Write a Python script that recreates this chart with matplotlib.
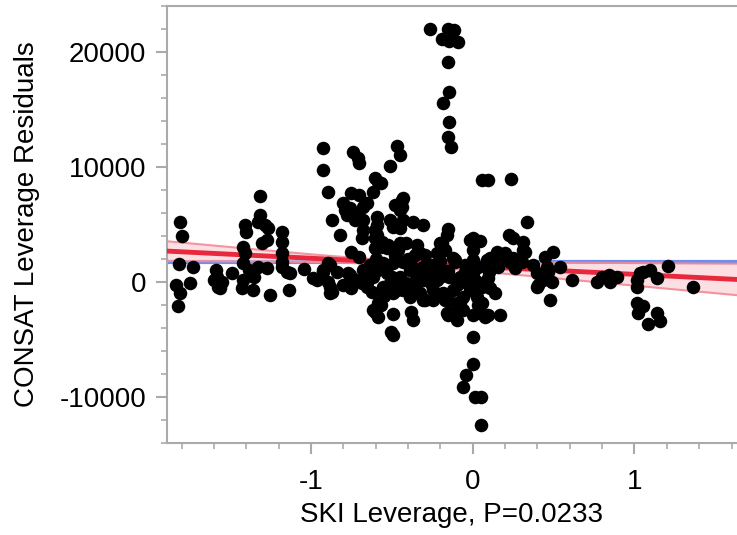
import numpy as np
import matplotlib.pyplot as plt
from matplotlib.ticker import MultipleLocator

plt.rcParams['font.family'] = ['Liberation Sans', 'DejaVu Sans']
plt.rcParams['axes.unicode_minus'] = False

# leverage points (SKI leverage, CONSAT leverage residual)
far_left = [(-1.81, 5220), (-1.80, 4000), (-1.815, 1560), (-1.73, 1300), (-1.835, -260),
            (-1.81, -960), (-1.75, -90), (-1.82, -2090)]
left_mid = [(-1.59, 1040), (-1.58, 430), (-1.575, -430), (-1.55, 0), (-1.49, 780),
            (-1.60, 170), (-1.56, -520)]
left_upper = [(-1.41, 4960), (-1.40, 4350), (-1.42, 3040), (-1.41, 2520), (-1.42, 1650),
              (-1.425, -520), (-1.42, 170), (-1.36, -700), (-1.355, 430), (-1.33, 1300),
              (-1.38, 1040), (-1.315, 7480), (-1.315, 5830), (-1.325, 5220), (-1.285, 4960),
              (-1.265, 4700), (-1.30, 3390), (-1.27, 3650), (-1.27, 1220), (-1.255, -1130),
              (-1.18, 4350), (-1.18, 3480), (-1.18, 2520), (-1.18, 1740), (-1.18, 1300),
              (-1.15, 870), (-1.13, 780), (-1.135, -700), (-1.04, 1130), (-0.99, 350)]
centre_upper = [(-0.925, 11650), (-0.925, 9740), (-0.895, 7830), (-0.74, 11300), (-0.71, 10780),
                (-0.70, 10350), (-0.47, 11830), (-0.45, 11040), (-0.51, 10090), (-0.605, 9040),
                (-0.585, 8700), (-0.615, 7830), (-0.75, 7740), (-0.70, 7570), (-0.655, 6870),
                (-0.80, 6870), (-0.79, 6260), (-0.76, 6430), (-0.78, 5830), (-0.73, 5390),
                (-0.71, 5830), (-0.87, 5390), (-0.82, 4090), (-0.68, 5390), (-0.68, 4520),
                (-0.685, 3830), (-0.59, 5650), (-0.605, 4520), (-0.605, 3830), (-0.48, 6700),
                (-0.44, 7130), (-0.45, 6260), (-0.51, 5390), (-0.495, 4780), (-0.45, 4700),
                (-0.43, 5390), (-0.37, 5220), (-0.31, 4960), (-0.43, 7300), (-0.57, 8610),
                (-0.68, 6520), (-0.59, 4960), (-0.59, 4090), (-0.44, 6520)]
centre_mid = [(-0.75, 2610), (-0.56, 3480), (-0.525, 3220), (-0.53, 2960), (-0.45, 3390),
              (-0.41, 3390), (-0.345, 3220), (-0.605, 2960), (-0.20, 3390), (-0.46, 2780),
              (-0.155, 4610), (-0.16, 4090), (-0.19, 3390), (-0.17, 2780), (-0.12, 2090),
              (-0.11, 1740), (-0.57, 3040), (-0.22, 2520), (-0.325, 2520), (-0.355, 2350),
              (-0.295, 2350), (-0.48, 2350), (-0.40, 2000), (-0.60, 2000), (-0.70, 2200)]
spike = [(-0.265, 22000), (-0.155, 22000), (-0.115, 21900), (-0.19, 21130), (-0.145, 20960),
         (-0.09, 20870), (-0.15, 19130), (-0.145, 16520), (-0.185, 15570), (-0.145, 13910),
         (-0.15, 12610), (-0.135, 11740), (0.06, 8870), (0.095, 8870), (0.235, 8960)]
blob = [(-0.88, 1480), (-0.93, 430), (-0.895, 0), (-0.925, 870), (-0.87, -870), (-0.80, -260),
        (-0.77, 780), (-0.74, 170), (-0.685, -90), (-0.655, 780), (-0.635, 1480), (-0.615, 430),
        (-0.62, -870), (-0.555, 1650), (-0.53, 780), (-0.51, -90), (-0.47, -700), (-0.45, 430),
        (-0.39, 1040), (-0.41, -90), (-0.37, -960), (-0.295, -1570), (-0.345, 170), (-0.31, 1300),
        (-0.245, 780), (-0.245, -700), (-0.96, 170), (-0.925, 1040), (-0.895, 1650), (-0.88, -430),
        (-0.88, -960), (-0.84, 870), (-0.76, 610), (-0.72, 170), (-0.68, 1040), (-0.655, -430),
        (-0.555, 1300), (-0.495, 1650), (-0.43, 1740), (-0.37, 1040), (-0.265, 780), (-0.22, 170),
        (-0.185, -960), (-0.17, -1570), (-0.325, -960), (-0.31, -1570), (-0.43, -700), (-0.495, -960),
        (-0.555, -430), (-0.39, -1300), (-0.28, 1300), (-0.22, 1220), (-0.145, 430), (-0.08, 430),
        (-0.12, -700), (-0.155, -1570), (-0.08, -1830), (-0.245, -1570), (-0.20, 430), (-0.28, 170),
        (-0.06, -1300), (-0.095, -1830), (-0.11, 1910), (-0.015, -700),
        (-0.35, 600), (-0.30, 200), (-0.25, 1500), (-0.20, 1800), (-0.15, 1000), (-0.05, 900),
        (-0.05, 0), (0.0, 800), (-0.10, -300), (-0.60, 1000), (-0.50, 400), (-0.65, 200),
        (-0.45, -400), (-0.35, -500), (-0.25, -300), (-0.05, 1500), (0.03, 1300), (-0.75, -500),
        (-0.55, -1200), (-0.20, -1200), (0.10, 900), (-0.38, 1500)]
lower = [(-0.57, -2000), (-0.605, -2610), (-0.585, -3040), (-0.49, -2780), (-0.38, -2610),
         (-0.37, -3300), (-0.505, -4350), (-0.495, -4610), (-0.615, -2430), (-0.585, -1830),
         (-0.155, -2870), (-0.12, -2610), (-0.06, -2430), (0.045, -2700), (0.095, -2870),
         (0.17, -2870), (0.03, -2000), (-0.16, -2700), (-0.095, -3300), (0.0, -2870),
         (0.075, -3040), (0.0, -4780), (0.0, -7130), (-0.04, -8090), (-0.06, -9130),
         (0.015, -10000), (0.05, -10000), (0.05, -12440), (0.06, -1830), (0.025, -1300)]
right_near = [(-0.015, 3650), (0.0, 3830), (0.045, 3570), (0.225, 4090), (0.25, 3830), (0.31, 3480),
              (0.31, 2780), (0.325, 2610), (0.20, 2520), (0.15, 2610), (0.14, 2090), (0.09, 1910),
              (0.0, 1910), (0.0, 2780), (0.25, 2090), (0.305, 1740), (0.26, 1220), (0.23, 1740),
              (0.155, 1300), (0.37, 1480), (0.40, 780), (0.405, -260), (0.445, 2170), (0.46, 1300),
              (0.495, 2610), (0.465, 870), (0.48, -1570), (0.54, 1300), (0.615, 170), (0.435, 170),
              (0.40, -430), (0.49, 0), (0.335, 5220), (0.105, 2090), (0.17, 2090), (0.06, -430),
              (0.105, -520), (0.015, 170), (0.075, 0), (0.095, 350), (0.14, -960)]
far_right = [(0.77, 0), (0.80, 430), (0.84, 610), (0.85, 0), (0.89, 430), (1.015, 170),
             (1.035, 780), (1.055, 870), (1.095, 1040), (1.14, 350), (1.015, -430), (1.21, 1390),
             (1.36, -430), (1.015, -1830), (1.055, -2090), (1.02, -2700), (1.14, -2700),
             (1.16, -3390), (1.085, -3650)]

# fit: mean line, regression line and its confidence curves
mean_x = -0.55
mean_y = 1750
slope = -700
band_a = 200
band_b = 620

pts = far_left + left_mid + left_upper + centre_upper + centre_mid + spike + blob + lower + right_near + far_right
lev_x = [p[0] for p in pts]
lev_y = [p[1] for p in pts]

fig = plt.figure(figsize=(7.37, 5.35), dpi=100)
ax = fig.add_axes([167/737, 92/535, 570/737, 437/535])

x0, x1 = -1.89, 1.634
xs = np.linspace(x0, x1, 200)
fit = mean_y + slope*(xs - mean_x)
hw = np.sqrt(band_a**2 + (band_b*(xs - mean_x))**2)

ax.axhline(mean_y, color='#6A8FF0', lw=3, zorder=1)
ax.fill_between(xs, fit - hw, fit + hw, color='#F9C6CD', alpha=0.55, lw=0, zorder=2)
ax.plot(xs, fit + hw, color='#F28A98', lw=1.5, alpha=0.9, zorder=2)
ax.plot(xs, fit - hw, color='#F28A98', lw=1.5, alpha=0.9, zorder=2)
ax.plot(xs, fit, color='#E8283C', lw=3.5, zorder=3)
ax.scatter(lev_x, lev_y, s=95, color='black', lw=0, zorder=4)

ax.set_xlim(x0, x1)
ax.set_ylim(-14000, 24000)
ax.xaxis.set_major_locator(MultipleLocator(1))
ax.xaxis.set_minor_locator(MultipleLocator(0.2))
ax.yaxis.set_major_locator(MultipleLocator(10000))
ax.yaxis.set_minor_locator(MultipleLocator(2000))

for s in ['left', 'bottom', 'top']:
    ax.spines[s].set_color('#AAAAAA')
    ax.spines[s].set_linewidth(1.5)
ax.spines['right'].set_visible(False)
ax.tick_params(which='major', length=8, width=1.5, color='#AAAAAA', labelsize=20, pad=7)
ax.tick_params(which='minor', length=4, width=1.2, color='#AAAAAA')
ax.tick_params(axis='x', which='major', pad=11)

ax.set_xlabel('SKI Leverage, P=0.0233', fontsize=20, labelpad=5)
ax.set_ylabel('CONSAT Leverage Residuals', fontsize=20, labelpad=14)

fig.savefig('out.png', dpi=100)
